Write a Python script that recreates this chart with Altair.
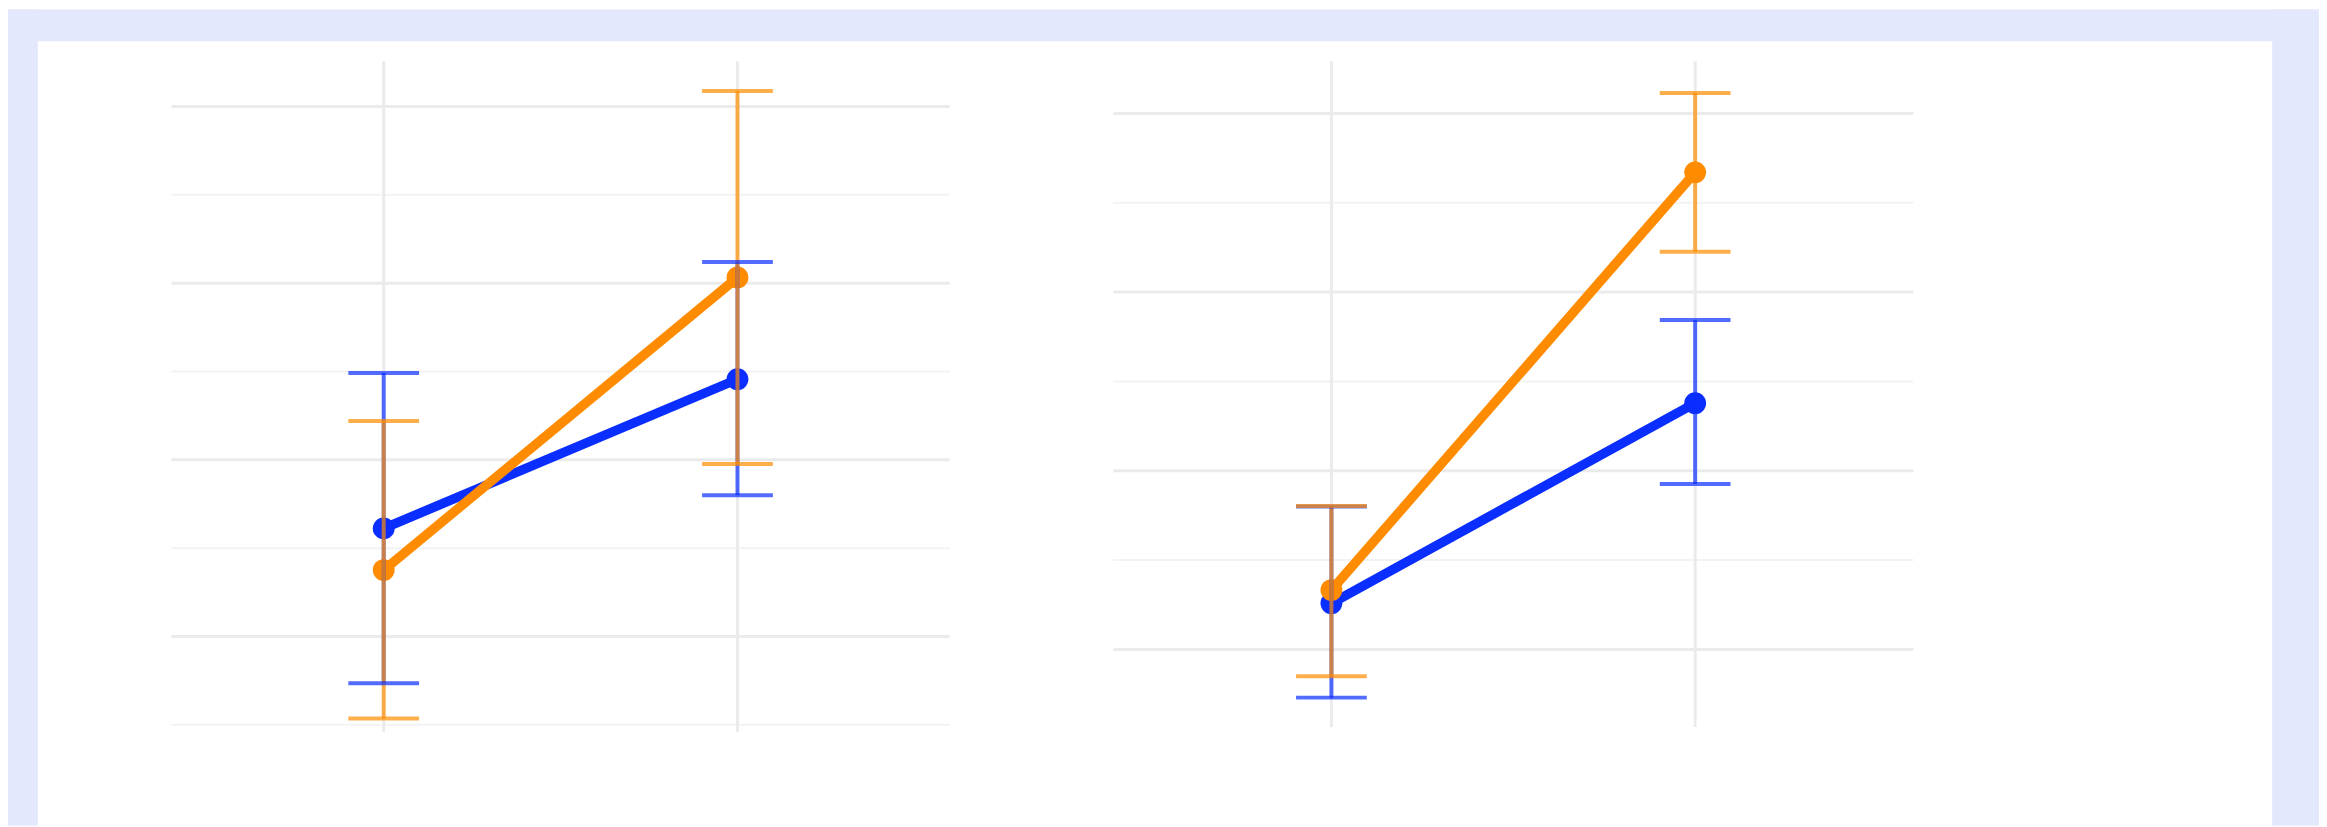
import altair as alt
import pandas as pd

# ---------------- data ----------------
groups = ["musicians", "non-musicians"]
group_colors = ["#FF8C00", "#0A2EFF"]

val_conditions = ["listening valence", "singing valence"]
val_mus_mean = [6.344, 6.758]
val_mus_lo = [6.134, 6.494]
val_mus_hi = [6.555, 7.022]
val_non_mean = [6.403, 6.614]
val_non_lo = [6.184, 6.450]
val_non_hi = [6.623, 6.780]

aro_conditions = ["listening arousal", "singing arousal"]
aro_mus_mean = [5.666, 6.835]
aro_mus_lo = [5.425, 6.613]
aro_mus_hi = [5.901, 7.057]
aro_non_mean = [5.629, 6.189]
aro_non_lo = [5.365, 5.963]
aro_non_hi = [5.900, 6.422]

val_major = [6.25, 6.5, 6.75, 7.0]
val_minor = [6.125, 6.375, 6.625, 6.875]
val_domain = [6.115, 7.064]

aro_major = [5.5, 6.0, 6.5, 7.0]
aro_minor = [5.75, 6.25, 6.75]
aro_domain = [5.283, 7.146]

FRAME = "#E3E8FD"


def make_df(conds, mus_mean, mus_lo, mus_hi, non_mean, non_lo, non_hi):
    rows = []
    # non-musicians first so musicians are drawn on top
    for g, m, lo, hi in [("non-musicians", non_mean, non_lo, non_hi),
                         ("musicians", mus_mean, mus_lo, mus_hi)]:
        for i, c in enumerate(conds):
            rows.append({"condition": c, "group": g, "means": m[i], "lo": lo[i], "hi": hi[i]})
    return pd.DataFrame(rows)


val_df = make_df(val_conditions, val_mus_mean, val_mus_lo, val_mus_hi,
                 val_non_mean, val_non_lo, val_non_hi)
aro_df = make_df(aro_conditions, aro_mus_mean, aro_mus_lo, aro_mus_hi,
                 aro_non_mean, aro_non_lo, aro_non_hi)


def strip(x0, x1, y0, y1):
    return alt.Chart(pd.DataFrame({"k": [0]})).mark_rect(color=FRAME).encode(
        x=alt.value(x0), x2=alt.value(x1), y=alt.value(y0), y2=alt.value(y1))


def panel(df, conds, major, minor, domain, fmt, w, h, strips, show_legend):
    xs = alt.Scale(type="point", domain=conds, padding=0.6)
    ys = alt.Scale(domain=domain, nice=False, zero=False)
    color = alt.Scale(domain=groups, range=group_colors)

    xaxis = alt.Axis(
        title="condition", grid=False, domain=False, ticks=False, labelAngle=0,
        labelFontSize=36, labelColor="black", labelPadding=18,
        titleFontSize=36, titleFontWeight="bold", titleColor="black",
        titlePadding=10,
    )
    yaxis = alt.Axis(
        title="means", values=major, format=fmt, grid=False, domain=False, ticks=False,
        labelFontSize=28, labelColor="#555555", labelPadding=19,
        titleFontSize=36, titleFontWeight="normal", titleColor="black",
        titlePadding=5,
    )

    major_grid = alt.Chart(pd.DataFrame({"v": major})).mark_rule(
        color="#EBEBEB", strokeWidth=3).encode(y=alt.Y("v:Q", scale=ys, axis=None))
    minor_grid = alt.Chart(pd.DataFrame({"v": minor})).mark_rule(
        color="#F3F3F3", strokeWidth=2).encode(y=alt.Y("v:Q", scale=ys, axis=None))
    vert_grid = alt.Chart(pd.DataFrame({"c": conds})).mark_rule(
        color="#EBEBEB", strokeWidth=3).encode(x=alt.X("c:N", scale=xs, axis=None))

    base = alt.Chart(df)
    lines = base.mark_line(strokeWidth=9.5).encode(
        x=alt.X("condition:N", scale=xs, axis=xaxis, sort=conds),
        y=alt.Y("means:Q", scale=ys, axis=yaxis),
        color=alt.Color("group:N", scale=color, legend=None),
    )
    legend = None
    if show_legend:
        legend = alt.Legend(
            title="group", orient="none", legendX=837, legendY=257, padding=0,
            symbolType="circle", symbolSize=700, symbolStrokeWidth=0,
            symbolOffset=26, labelOffset=37, symbolOpacity=1,
            titleFontSize=36, titleFontWeight="bold", titleColor="black",
            labelFontSize=34, labelColor="black",
            rowPadding=23, titlePadding=21,
        )
    points = base.mark_circle(size=480, opacity=1).encode(
        x=alt.X("condition:N", scale=xs, axis=None),
        y=alt.Y("means:Q", scale=ys, axis=None),
        color=alt.Color("group:N", scale=color, legend=legend),
    )
    err = base.mark_rule(strokeWidth=4, opacity=0.7).encode(
        x=alt.X("condition:N", scale=xs, axis=None),
        y=alt.Y("lo:Q", scale=ys, axis=None),
        y2="hi:Q",
        color=alt.Color("group:N", scale=color, legend=None),
    )
    cap_lo = base.mark_tick(thickness=4, size=71, opacity=0.7).encode(
        x=alt.X("condition:N", scale=xs, axis=None),
        y=alt.Y("lo:Q", scale=ys, axis=None),
        color=alt.Color("group:N", scale=color, legend=None),
    )
    cap_hi = base.mark_tick(thickness=4, size=71, opacity=0.7).encode(
        x=alt.X("condition:N", scale=xs, axis=None),
        y=alt.Y("hi:Q", scale=ys, axis=None),
        color=alt.Color("group:N", scale=color, legend=None),
    )
    layers = [strip(*s) for s in strips] + [major_grid, minor_grid, vert_grid, lines, points,
                                             err, cap_lo, cap_hi]
    return alt.layer(*layers).properties(width=w, height=h)


left = panel(val_df, val_conditions, val_major, val_minor, val_domain, ".2f", 781, 673,
             strips=[(-164, 2155, -52, -20), (-164, -134, -52, 767)],
             show_legend=False)
right = panel(aro_df, aro_conditions, aro_major, aro_minor, aro_domain, ".1f", 803, 668,
              strips=[(1163, 1210, -52, 767)],
              show_legend=True)

chart = alt.hconcat(left, right, spacing=164, bounds="flush").resolve_legend(
    color="independent"
).properties(
    padding=0,
    background="white",
).configure_view(stroke=None)

chart.save("out.html", embed_options={"renderer": "svg", "actions": False})
